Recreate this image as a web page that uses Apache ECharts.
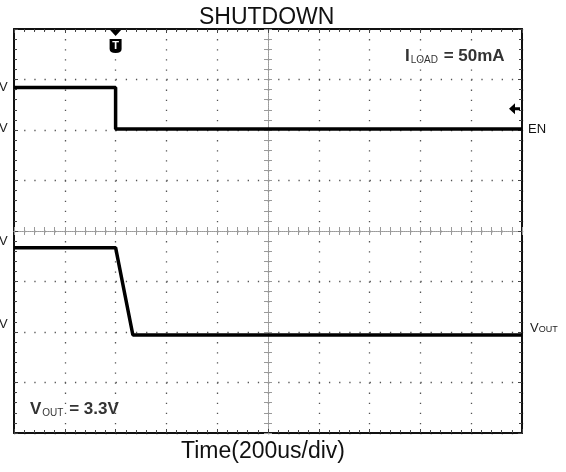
<!DOCTYPE html>
<html><head><meta charset="utf-8">
<script src="https://cdn.jsdelivr.net/npm/echarts@6/dist/echarts.min.js"></script>
<style>html,body{margin:0;padding:0;background:#fff}#c{width:566px;height:472px}</style>
</head><body><div id="c"></div>
<script>
// ---- data (time in microseconds, level in screen divisions from bottom) ----
const titleText = 'SHUTDOWN';
const xAxisTitle = 'Time(200us/div)';
const timeMin = -400, timeMax = 1600, timeStep = 200;
const divMin = 0, divMax = 8, divStep = 1;
const enTime  = [-400, 0, 0, 1600];
const enLevel = [6.84, 6.84, 6.02, 6.02];
const voutTime  = [-400, 0, 68, 1600];
const voutLevel = [3.67, 3.67, 1.94, 1.94];
const triggerTime = 0;
const enMarkerLevel = 6.42;
const channelNames = ['EN', 'VOUT'];
const loadNote = ['I', 'LOAD', ' = 50mA'];
const voutNote = ['V', 'OUT', ' = 3.3V'];
const sideLabels = ['V', 'V', 'V', 'V'];

const FONT = '"Liberation Sans", Arial, sans-serif';
const chart = echarts.init(document.getElementById('c'), null, {renderer: 'canvas'});

const gridRect = {left: 14, top: 29, width: 508, height: 404};

function centerAxis(gridIndex, position, min, max) {
  return {
    gridIndex, type: 'value', position, min, max, interval: 1,
    axisLine: {show: true, onZero: true, onZeroAxisIndex: 0, lineStyle: {color: '#9a9a9a', width: 1, type: [1, 1]}},
    axisTick: {show: true, inside: true, length: 4, lineStyle: {color: '#9a9a9a', width: 1}},
    minorTick: {show: true, splitNumber: 5, length: 4, lineStyle: {color: '#9a9a9a', width: 1}},
    axisLabel: {show: false}, splitLine: {show: false}
  };
}
function borderAxis(position, min, max, interval, split, dash) {
  return {
    gridIndex: 1, type: 'value', position, min, max, interval,
    axisLine: {show: true, onZero: false, lineStyle: {color: '#111', width: 2}},
    axisTick: {show: true, inside: true, length: 4, lineStyle: {color: '#444', width: 1}},
    minorTick: {show: true, splitNumber: 5, length: 3, lineStyle: {color: '#444', width: 1}},
    axisLabel: {show: false},
    splitLine: {show: split, lineStyle: {color: '#555', width: 1.3, type: dash}}
  };
}

const option = {
  animation: false,
  backgroundColor: '#fff',
  title: {
    text: titleText, left: 194, top: 1,
    textStyle: {fontFamily: FONT, fontSize: 23, fontWeight: 'normal', color: '#111'}
  },
  grid: [Object.assign({}, gridRect), Object.assign({}, gridRect)],
  xAxis: [
    centerAxis(0, 'bottom', -5, 5),
    centerAxis(0, 'top', -5, 5),
    borderAxis('bottom', timeMin, timeMax, timeStep, true, [1.3, 8.8]),
    borderAxis('top', timeMin, timeMax, timeStep, false, 'solid')
  ],
  yAxis: [
    centerAxis(0, 'left', -4, 4),
    centerAxis(0, 'right', -4, 4),
    borderAxis('left', divMin, divMax, divStep, true, [1.3, 8.86]),
    borderAxis('right', divMin, divMax, divStep, false, 'solid')
  ],
  series: [
    {
      name: channelNames[0], type: 'line', xAxisIndex: 2, yAxisIndex: 2,
      data: enTime.map((t, i) => [t, enLevel[i]]),
      symbol: 'none', lineStyle: {color: '#000', width: 3.5},
      endLabel: {show: true, formatter: channelNames[0], distance: 6,
        fontFamily: FONT, fontSize: 13, color: '#111'},
      markPoint: {
        silent: true,
        data: [
          {coord: [triggerTime, divMax], symbol: 'path://M0,0L11,0L5.5,6Z', symbolSize: [11, 6],
           symbolOffset: [0, 4], itemStyle: {color: '#000'}, label: {show: false}},
          {coord: [triggerTime, divMax], symbol: 'path://M0,0L12,0L12,10Q12,14 6,14Q0,14 0,10Z',
           symbolSize: [12, 14], symbolOffset: [0, 17], itemStyle: {color: '#000'},
           label: {show: true, formatter: 'T', position: 'inside', color: '#fff',
             fontFamily: FONT, fontWeight: 'bold', fontSize: 11}},
          {coord: [timeMax, enMarkerLevel], symbol: 'path://M0,5.5L6,0L6,4L11,4L11,7L6,7L6,11Z',
           symbolSize: [11, 11], symbolOffset: [-7.5, 0], itemStyle: {color: '#000'}, label: {show: false}}
        ]
      }
    },
    {
      name: channelNames[1], type: 'line', xAxisIndex: 2, yAxisIndex: 2,
      data: voutTime.map((t, i) => [t, voutLevel[i]]),
      symbol: 'none', lineStyle: {color: '#000', width: 3.5},
      endLabel: {show: true, formatter: '{v|V}{s|OUT}', distance: 8, offset: [0, -7],
        rich: {v: {fontFamily: FONT, fontSize: 13, color: '#222', verticalAlign: 'bottom'},
               s: {fontFamily: FONT, fontSize: 9, color: '#222', verticalAlign: 'bottom', padding: [0, 0, 1, 0]}}}
    }
  ],
  graphic: [
    {type: 'text', left: 405, top: 48, silent: true,
     style: {text: '{a|' + loadNote[0] + '}{b|' + loadNote[1] + '}{a|' + loadNote[2] + '}',
       rich: {a: {fontFamily: FONT, fontSize: 17, fontWeight: 'bold', fill: '#333', verticalAlign: 'bottom'},
              b: {fontFamily: FONT, fontSize: 10, fill: '#333', verticalAlign: 'bottom', padding: [0, 1, 0, 1]}}}},
    {type: 'text', left: 30, top: 401, silent: true,
     style: {text: '{a|' + voutNote[0] + '}{b|' + voutNote[1] + '}{a|' + voutNote[2] + '}',
       rich: {a: {fontFamily: FONT, fontSize: 17, fontWeight: 'bold', fill: '#333', verticalAlign: 'bottom'},
              b: {fontFamily: FONT, fontSize: 10, fill: '#333', verticalAlign: 'bottom', padding: [0, 1, 0, 1]}}}},
    {type: 'text', left: 181, top: 440, silent: true,
     style: {text: xAxisTitle, font: '23px ' + FONT, fill: '#111'}},
    {type: 'text', left: -1, top: 81, silent: true, style: {text: sideLabels[0], font: '13px ' + FONT, fill: '#222'}},
    {type: 'text', left: -1, top: 122, silent: true, style: {text: sideLabels[1], font: '13px ' + FONT, fill: '#222'}},
    {type: 'text', left: -1, top: 235, silent: true, style: {text: sideLabels[2], font: '13px ' + FONT, fill: '#222'}},
    {type: 'text', left: -1, top: 318, silent: true, style: {text: sideLabels[3], font: '13px ' + FONT, fill: '#222'}}
  ]
};
chart.setOption(option);
</script>
</body></html>
